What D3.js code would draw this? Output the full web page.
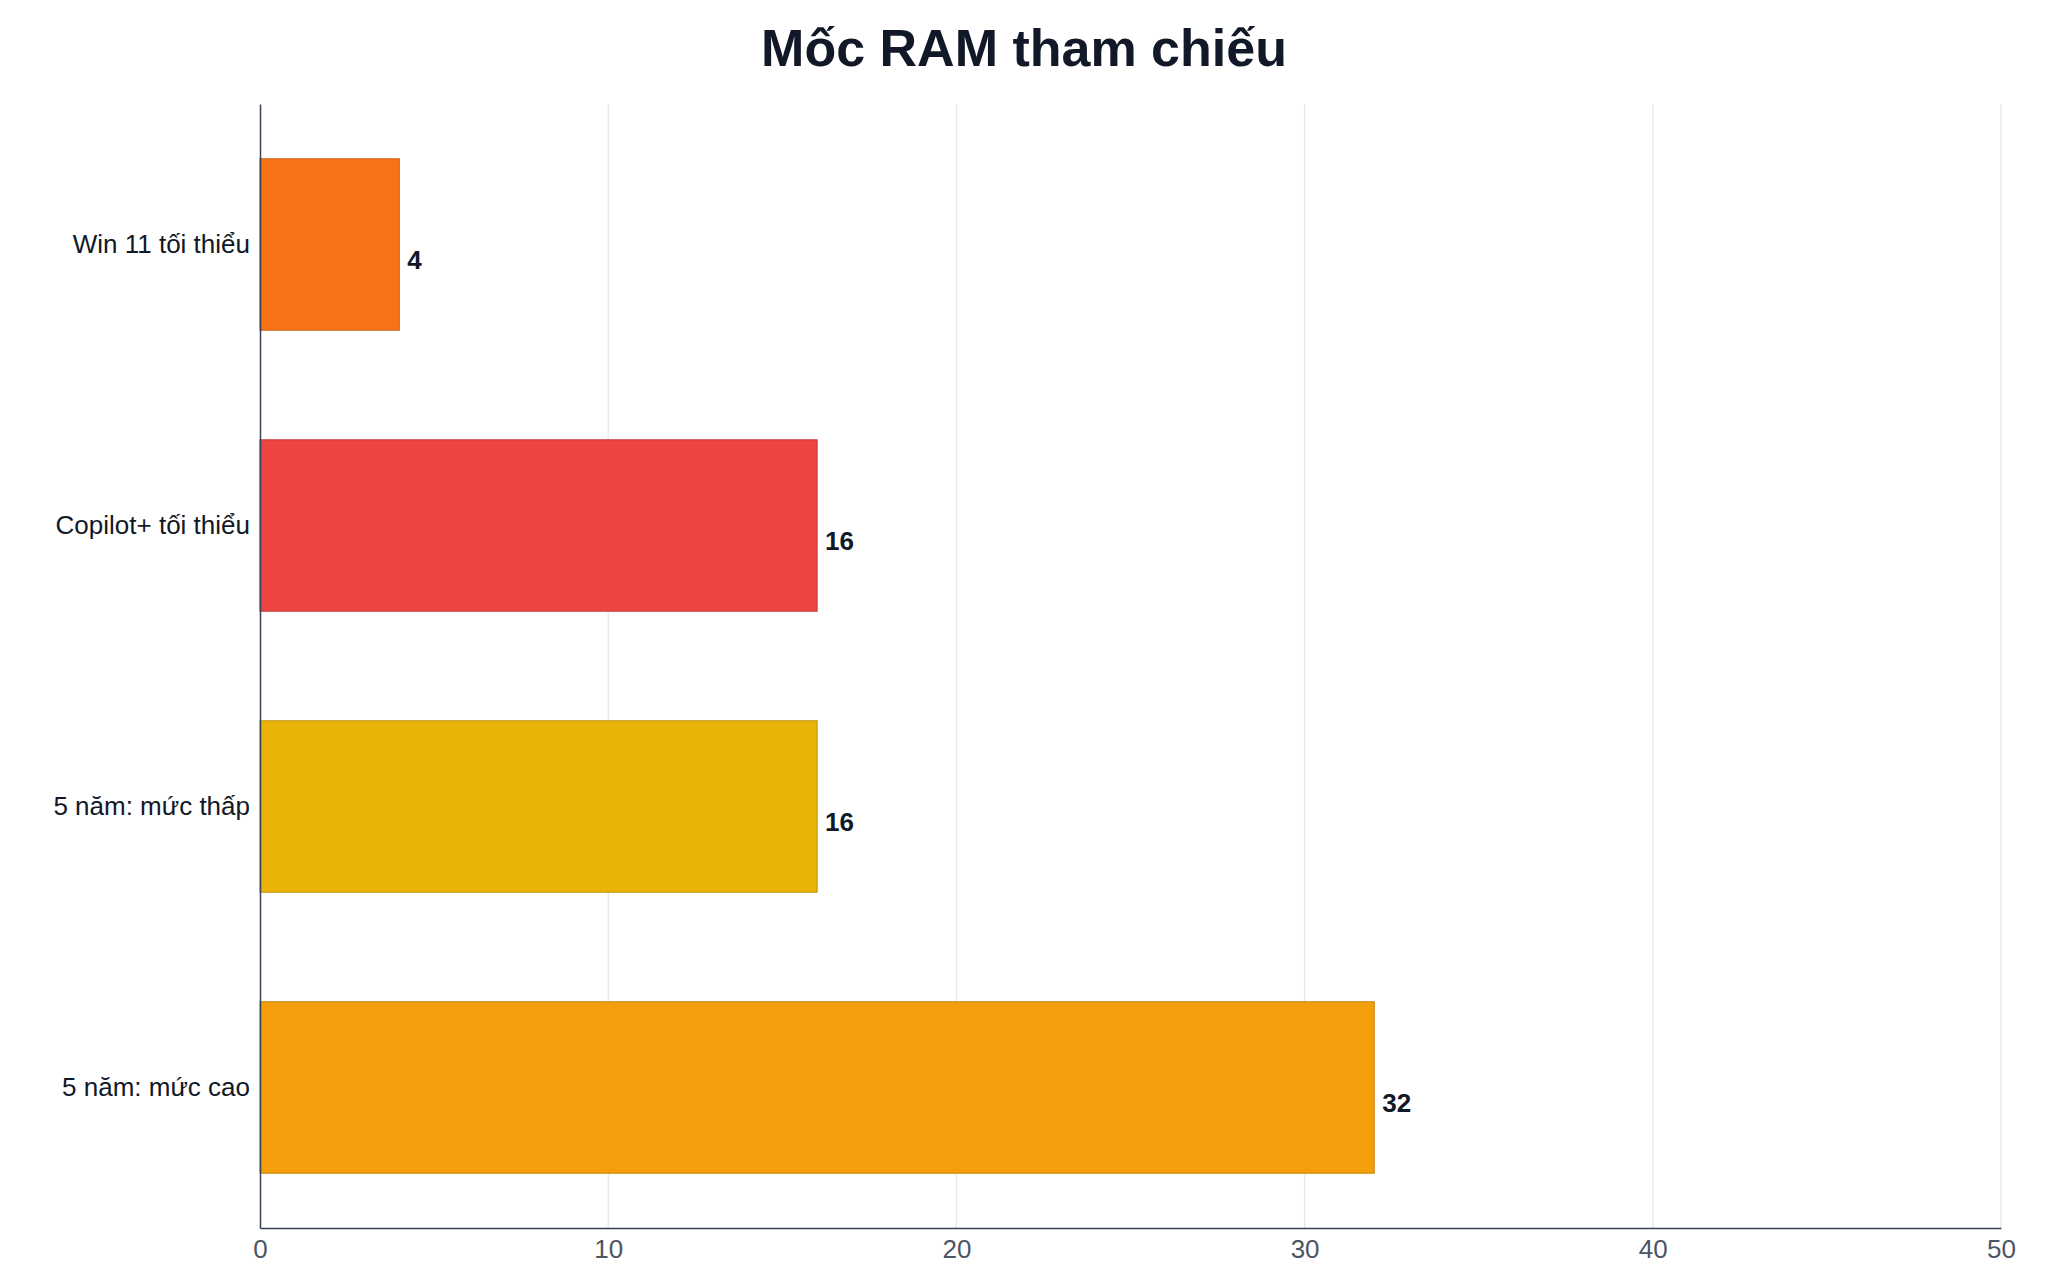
<!DOCTYPE html>
<html><head><meta charset="utf-8">
<script src="https://cdn.jsdelivr.net/npm/d3@7"></script>
<style>body{margin:0;background:#fff;font-family:"Liberation Sans",Arial,sans-serif}</style>
</head><body><svg id="c" width="2048" height="1280"></svg>
<script>
// data
const categories = ["Win 11 tối thiểu", "Copilot+ tối thiểu", "5 năm: mức thấp", "5 năm: mức cao"];
const ramValues = [4, 16, 16, 32];
const barColors = ["#f97316", "#ef4444", "#eab308", "#f59e0b"];
const xTicks = [0, 10, 20, 30, 40, 50];

const svg = d3.select("#c");
const m = {left: 260, right: 2001, top: 104, bottom: 1228};

const x = d3.scaleLinear().domain([0, 50]).range([m.left, m.right]);
const y = d3.scaleBand().domain(categories).range([m.top, m.bottom]).paddingInner(0.39).paddingOuter(0.195);

svg.append("text").attr("x", 1024).attr("y", 66).attr("text-anchor", "middle")
  .attr("font-size", 52).attr("font-weight", "bold").attr("fill", "#111827").text("Mốc RAM tham chiếu");

// grid
svg.append("g").selectAll("line").data(xTicks.slice(1)).join("line")
  .attr("x1", d => x(d)).attr("x2", d => x(d)).attr("y1", m.top).attr("y2", m.bottom)
  .attr("stroke", "#e5e7eb").attr("stroke-width", 1.3);

svg.append("g").selectAll("rect").data(ramValues).join("rect")
  .attr("x", x(0)).attr("y", (d, i) => y(categories[i]))
  .attr("width", d => x(d) - x(0)).attr("height", y.bandwidth())
  .attr("fill", (d, i) => barColors[i])
  .attr("stroke", (d, i) => d3.color(barColors[i]).darker(0.6)).attr("stroke-width", 1);

svg.append("g").selectAll("text").data(ramValues).join("text")
  .attr("x", d => x(d) + 8).attr("y", (d, i) => y(categories[i]) + y.bandwidth() / 2 + 24)
  .attr("font-size", 26).attr("font-weight", "bold").attr("fill", "#111827").text(d => d);

const xa = svg.append("g").attr("transform", `translate(0,${m.bottom})`)
  .call(d3.axisBottom(x).tickValues(xTicks).tickSize(0).tickPadding(12));
xa.select(".domain").attr("stroke", "#374151").attr("stroke-width", 1.5);
xa.selectAll("text").attr("font-size", 26).attr("fill", "#4b5563").attr("font-family", "Liberation Sans, Arial, sans-serif");

const ya = svg.append("g").attr("transform", `translate(${m.left},0)`)
  .call(d3.axisLeft(y).tickSize(0).tickPadding(10));
ya.select(".domain").attr("stroke", "#374151").attr("stroke-width", 1.5);
ya.selectAll("text").attr("font-size", 26).attr("fill", "#111827").attr("font-family", "Liberation Sans, Arial, sans-serif");
</script></body></html>
